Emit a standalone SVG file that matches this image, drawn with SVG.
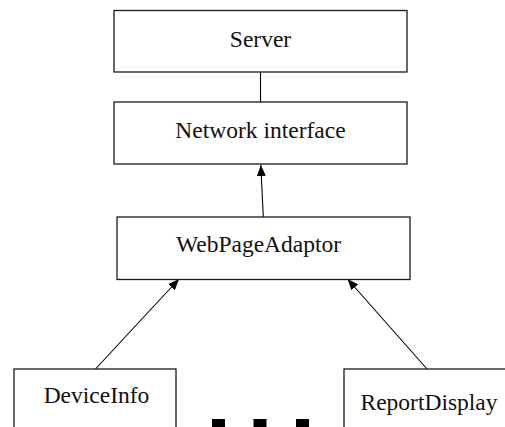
<svg xmlns="http://www.w3.org/2000/svg" width="505" height="427" viewBox="0 0 505 427">
  <style>
    .box { fill: #ffffff; stroke: #1a1a1a; stroke-width: 1.3; }
    .label { font-family: "Liberation Serif", "Times New Roman", serif; font-size: 23.5px; fill: #111111; text-anchor: middle; }
    .link { stroke: #000000; stroke-width: 1.1; fill: none; }
    .dot { fill: #000000; }
  </style>
  <defs>
    <marker id="head" viewBox="0 0 11 9" refX="11" refY="4.5" markerWidth="11" markerHeight="9" markerUnits="userSpaceOnUse" orient="auto">
      <path d="M0,0 L11,4.5 L0,9 Z" fill="#000000"/>
    </marker>
  </defs>

  <rect width="505" height="427" fill="#ffffff"/>

  <g id="connectors">
    <line class="link" x1="260.5" y1="72" x2="260.5" y2="102"/>
    <line class="link" x1="263.3" y1="217" x2="260.8" y2="165" marker-end="url(#head)"/>
    <line class="link" x1="95.5" y1="369" x2="179" y2="279" marker-end="url(#head)"/>
    <line class="link" x1="427" y1="369" x2="347.5" y2="279" marker-end="url(#head)"/>
  </g>

  <g id="server">
    <rect class="box" x="114" y="10.5" width="293" height="61.5"/>
    <text class="label" x="260.5" y="47">Server</text>
  </g>

  <g id="network-interface">
    <rect class="box" x="114" y="102" width="293" height="62"/>
    <text class="label" x="260.5" y="138">Network interface</text>
  </g>

  <g id="webpage-adaptor">
    <rect class="box" x="117" y="217" width="293" height="62.5"/>
    <text class="label" x="258.5" y="252">WebPageAdaptor</text>
  </g>

  <g id="device-info">
    <rect class="box" x="14" y="369" width="162" height="70"/>
    <text class="label" x="96.5" y="403">DeviceInfo</text>
  </g>

  <g id="report-display">
    <rect class="box" x="344" y="369" width="180" height="70"/>
    <text class="label" x="429" y="410">ReportDisplay</text>
  </g>

  <g id="ellipsis">
    <rect class="dot" x="212" y="419" width="13" height="9"/>
    <rect class="dot" x="253.5" y="419" width="13" height="9"/>
    <rect class="dot" x="296" y="419" width="13" height="9"/>
  </g>
</svg>
